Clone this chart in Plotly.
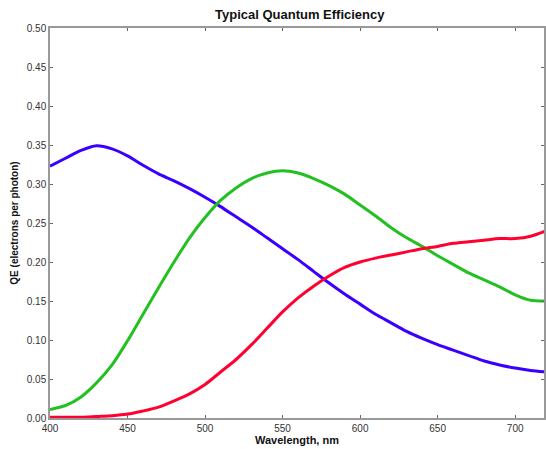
import plotly.graph_objects as go

wavelength = list(range(400, 721, 10))
blue = [0.323, 0.333, 0.343, 0.349, 0.345, 0.336, 0.324, 0.313, 0.304, 0.294,
        0.283, 0.271, 0.258, 0.245, 0.231, 0.217, 0.203, 0.188, 0.173, 0.159,
        0.146, 0.133, 0.122, 0.111, 0.102, 0.094, 0.087, 0.080, 0.073, 0.068,
        0.064, 0.061, 0.059]
green = [0.011, 0.016, 0.027, 0.045, 0.068, 0.099, 0.133, 0.167, 0.200, 0.231,
         0.257, 0.279, 0.295, 0.307, 0.314, 0.317, 0.314, 0.307, 0.298, 0.287,
         0.273, 0.259, 0.244, 0.231, 0.220, 0.208, 0.197, 0.186, 0.177, 0.168,
         0.158, 0.151, 0.150]
red = [0.001, 0.001, 0.001, 0.002, 0.003, 0.005, 0.009, 0.014, 0.022, 0.031,
       0.043, 0.059, 0.075, 0.094, 0.115, 0.136, 0.154, 0.169, 0.182, 0.193,
       0.200, 0.205, 0.209, 0.213, 0.217, 0.220, 0.224, 0.226, 0.228, 0.230,
       0.230, 0.233, 0.240]

x_ticks = [400, 450, 500, 550, 600, 650, 700]
y_ticks = [0.00, 0.05, 0.10, 0.15, 0.20, 0.25, 0.30, 0.35, 0.40, 0.45, 0.50]

fig = go.Figure()
for vals, col in [(blue, "#3a00ff"), (green, "#22c020"), (red, "#ff0030")]:
    fig.add_trace(go.Scatter(x=wavelength, y=vals, mode="lines",
                             line=dict(color=col, width=3, shape="spline", smoothing=0.8),
                             showlegend=False, hoverinfo="skip"))

axis_common = dict(showgrid=False, zeroline=False, showline=True, linecolor="#999999",
                   linewidth=1.5, mirror="ticks", ticks="inside", ticklen=3,
                   tickcolor="#666666", tickfont=dict(family="Liberation Sans, Arial", size=10, color="#333333"))

fig.update_layout(
    width=546, height=449,
    margin=dict(l=50, r=0, t=28, b=31),
    paper_bgcolor="white", plot_bgcolor="white",
    title=dict(text="<b>Typical Quantum Efficiency</b>", x=0.549, xanchor="center",
               y=0.968, yanchor="middle",
               font=dict(family="Liberation Sans, Arial", size=13, color="#111111")),
    xaxis=dict(range=[400, 718.6], tickvals=x_ticks,
               title=dict(text="<b>Wavelength, nm</b>", standoff=3,
                          font=dict(family="Liberation Sans, Arial", size=11, color="#111111")),
               **axis_common),
    yaxis=dict(range=[0, 0.5], tickvals=y_ticks, tickformat=".2f",
               title=dict(text="<b>QE (electrons per photon)</b>", standoff=6,
                          font=dict(family="Liberation Sans, Arial", size=10, color="#111111")),
               **axis_common),
)

fig.write_html("out.html", config={"displayModeBar": False},
               post_script="document.body.style.margin='0';document.body.style.overflow='hidden';")
